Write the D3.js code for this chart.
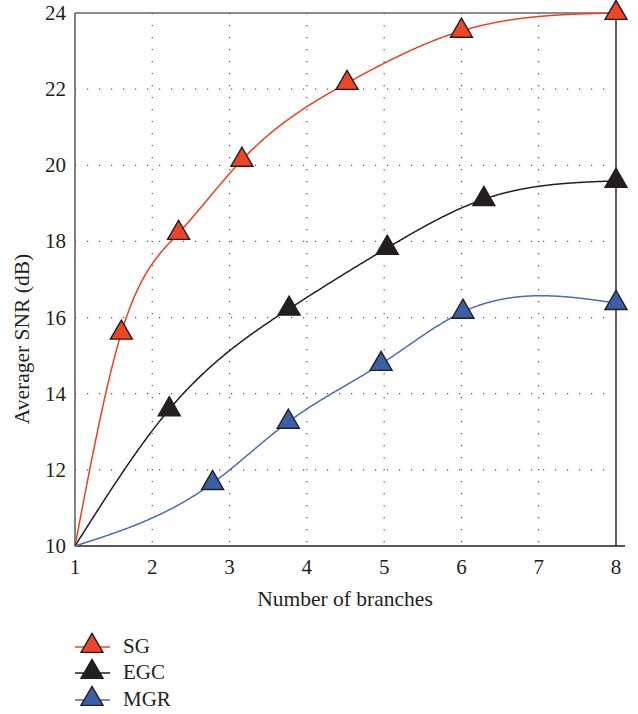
<!DOCTYPE html>
<html>
<head>
<meta charset="utf-8">
<script src="https://cdn.jsdelivr.net/npm/d3@7"></script>
<style>
  body { margin: 0; background: #fff; }
  svg text { font-family: "Liberation Serif", "DejaVu Serif", serif; fill: #231f20; }
</style>
</head>
<body>
<div id="chart"></div>
<script>
var W = 638, H = 714

// data (first point of each series is the curve start, no marker)
var sgX  = [1, 1.6, 2.34, 3.16, 4.52, 6.0, 8]
var sgY  = [10, 15.6, 18.22, 20.14, 22.16, 23.53, 24]
var egcX = [1, 2.22, 3.77, 5.04, 6.29, 8]
var egcY = [10, 13.59, 16.23, 17.83, 19.11, 19.59]
var mgrX = [1, 2.78, 3.76, 4.96, 6.02, 8]
var mgrY = [10, 11.65, 13.26, 14.78, 16.15, 16.38]

var seriesNames = ["SG", "EGC", "MGR"]
var xTicks = [1, 2, 3, 4, 5, 6, 7, 8]
var yTicks = [10, 12, 14, 16, 18, 20, 22, 24]

var lineColors = ["#f0401f", "#231f20", "#4a6db5"]
var fillColors = ["#ef4527", "#231f20", "#3b5ea8"]

var series = [
  {name: seriesNames[0], x: sgX, y: sgY},
  {name: seriesNames[1], x: egcX, y: egcY},
  {name: seriesNames[2], x: mgrX, y: mgrY}
]

var svg = d3.select("#chart").append("svg")
    .attr("width", W)
    .attr("height", H)

var xScale = d3.scaleLinear().domain([1, 8]).range([75, 616])
var yScale = d3.scaleLinear().domain([10, 24]).range([546, 13])

// natural cubic spline y(x), used only to draw the smooth curve through the points
function splineFn(xs, ys) {
  var n = xs.length, h = [], al = [], l = [1], mu = [0], z = [0], c = [], b = [], d = []
  for (var i = 0; i < n - 1; i++) h.push(xs[i+1] - xs[i])
  for (var i = 1; i < n - 1; i++)
    al[i] = 3 / h[i] * (ys[i+1] - ys[i]) - 3 / h[i-1] * (ys[i] - ys[i-1])
  for (var i = 1; i < n - 1; i++) {
    l[i] = 2 * (xs[i+1] - xs[i-1]) - h[i-1] * mu[i-1]
    mu[i] = h[i] / l[i]
    z[i] = (al[i] - h[i-1] * z[i-1]) / l[i]
  }
  c[n-1] = 0
  for (var j = n - 2; j >= 0; j--) {
    c[j] = z[j] - mu[j] * c[j+1]
    b[j] = (ys[j+1] - ys[j]) / h[j] - h[j] * (c[j+1] + 2 * c[j]) / 3
    d[j] = (c[j+1] - c[j]) / (3 * h[j])
  }
  return function(x) {
    var k = 0
    while (k < n - 2 && x > xs[k+1]) k++
    var t = x - xs[k]
    return ys[k] + b[k] * t + c[k] * t * t + d[k] * t * t * t
  }
}

// grid (dotted)
var gridG = svg.append("g")
gridG.selectAll(".vgrid")
    .data(xTicks.slice(1, -1))
    .enter().append("line")
    .attr("class", "vgrid")
    .attr("x1", function(d) { return xScale(d) })
    .attr("x2", function(d) { return xScale(d) })
    .attr("y1", yScale(24))
    .attr("y2", yScale(10))
    .attr("stroke", "#555")
    .attr("stroke-width", 1.2)
    .attr("stroke-dasharray", "1.2,10.8")

gridG.selectAll(".hgrid")
    .data(yTicks.slice(1, -1))
    .enter().append("line")
    .attr("class", "hgrid")
    .attr("x1", xScale(1))
    .attr("x2", xScale(8) - 6)
    .attr("y1", function(d) { return yScale(d) })
    .attr("y2", function(d) { return yScale(d) })
    .attr("stroke", "#555")
    .attr("stroke-width", 1.2)
    .attr("stroke-dasharray", "1.2,10.8")

// frame
svg.append("line")
    .attr("x1", xScale(1)).attr("x2", xScale(1))
    .attr("y1", yScale(24)).attr("y2", yScale(10))
    .attr("stroke", "#666").attr("stroke-width", 1.6)
svg.append("line")
    .attr("x1", xScale(1)).attr("x2", xScale(8))
    .attr("y1", yScale(24)).attr("y2", yScale(24))
    .attr("stroke", "#666").attr("stroke-width", 1.6)
svg.append("line")
    .attr("x1", xScale(8)).attr("x2", xScale(8))
    .attr("y1", yScale(24)).attr("y2", yScale(10))
    .attr("stroke", "#231f20").attr("stroke-width", 1.4)
svg.append("line")
    .attr("x1", xScale(1)).attr("x2", xScale(8) + 9)
    .attr("y1", yScale(10)).attr("y2", yScale(10))
    .attr("stroke", "#231f20").attr("stroke-width", 1.6)

// tick labels
svg.selectAll(".xlab")
    .data(xTicks)
    .enter().append("text")
    .attr("class", "xlab")
    .attr("x", function(d) { return xScale(d) })
    .attr("y", 574)
    .attr("text-anchor", "middle")
    .attr("font-size", "21px")
    .text(function(d) { return d })

svg.selectAll(".ylab")
    .data(yTicks)
    .enter().append("text")
    .attr("class", "ylab")
    .attr("x", 66)
    .attr("y", function(d) { return yScale(d) + 7 })
    .attr("text-anchor", "end")
    .attr("font-size", "21px")
    .text(function(d) { return d })

svg.append("text")
    .attr("x", 345)
    .attr("y", 606)
    .attr("text-anchor", "middle")
    .attr("font-size", "21.5px")
    .text("Number of branches")

svg.append("text")
    .attr("transform", "translate(29,339) rotate(-90)")
    .attr("text-anchor", "middle")
    .attr("font-size", "21.5px")
    .text("Averager SNR (dB)")

// curves
var line = d3.line()
    .x(function(d) { return xScale(d[0]) })
    .y(function(d) { return yScale(d[1]) })

var tri = d3.symbol().type(d3.symbolTriangle).size(210)

series.forEach(function(s, i) {
  var f = splineFn(s.x, s.y)
  var xs = d3.range(s.x[0], s.x[s.x.length - 1] + 0.001, 0.01)
  var pts = xs.map(function(v) { return [v, f(v)] })
  svg.append("path")
      .datum(pts)
      .attr("d", line)
      .attr("fill", "none")
      .attr("stroke", lineColors[i])
      .attr("stroke-width", 1.5)
})

series.forEach(function(s, i) {
  var pts = s.x.map(function(v, k) { return [v, s.y[k]] }).slice(1)
  svg.selectAll(".m" + i)
      .data(pts)
      .enter().append("path")
      .attr("class", "m" + i)
      .attr("d", tri)
      .attr("transform", function(d) { return "translate(" + xScale(d[0]) + "," + yScale(d[1]) + ")" })
      .attr("fill", fillColors[i])
      .attr("stroke", "#231f20")
      .attr("stroke-width", 1.4)
})

// legend
var legG = svg.append("g")
var legY = [646, 672, 699]
seriesNames.forEach(function(n, i) {
  legG.append("line")
      .attr("x1", 75).attr("x2", 110)
      .attr("y1", legY[i] + 1).attr("y2", legY[i] + 1)
      .attr("stroke", lineColors[i])
      .attr("stroke-width", 1.5)
  legG.append("path")
      .attr("d", tri)
      .attr("transform", "translate(92," + legY[i] + ")")
      .attr("fill", fillColors[i])
      .attr("stroke", "#231f20")
      .attr("stroke-width", 1.4)
  legG.append("text")
      .attr("x", 123)
      .attr("y", legY[i] + 7)
      .attr("font-size", "21px")
      .text(n)
})
</script>
</body>
</html>
